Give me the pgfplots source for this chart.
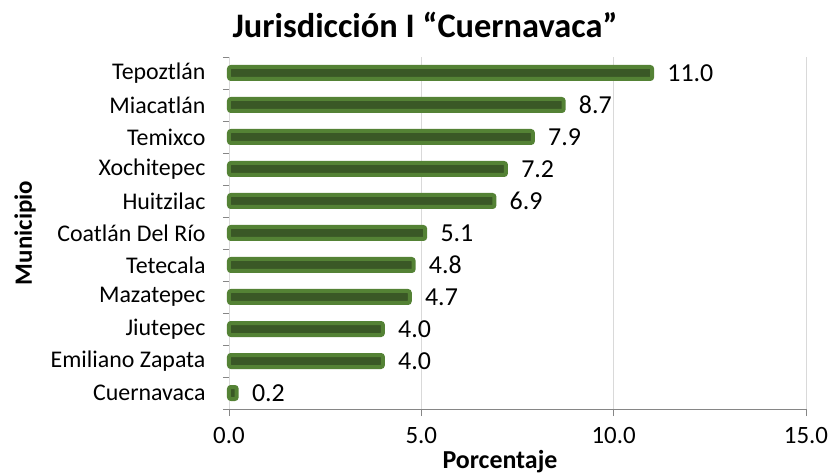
\documentclass[border=0pt]{standalone}
\usepackage{pgfplots}
\pgfplotsset{compat=1.18}
\usepackage{fontspec}
\setmainfont{Carlito}
\definecolor{barouter}{RGB}{84,130,53}
\definecolor{barinner}{RGB}{58,88,38}
\definecolor{axgray}{RGB}{134,134,134}
\definecolor{gridgray}{RGB}{217,217,217}
\begin{document}
\begin{tikzpicture}[x=1bp,y=1bp]
\useasboundingbox (-229bp,-65bp) rectangle (604bp,409bp);
\begin{axis}[
  at={(0,0)}, anchor=south west,
  scale only axis, width=577bp, height=352bp,
  xmin=0, xmax=15, ymin=-0.5, ymax=10.5,
  axis x line*=bottom, axis y line*=left,
  axis line style={axgray, line width=0.8bp},
  xtick={0,5,10,15},
  xticklabel style={font=\fontsize{25}{28}\selectfont, yshift=-15bp},
  /pgf/number format/.cd, fixed, precision=1, zerofill, assume math mode=true,
  /pgfplots/.cd,
  ytick={0,...,10},
  yticklabels={Cuernavaca,Emiliano Zapata,Jiutepec,Mazatepec,Tetecala,Coatlán Del Río,Huitzilac,Xochitepec,Temixco,Miacatlán,Tepoztlán},
  yticklabel style={font=\fontsize{24}{26}\selectfont, xshift=-20bp},
  minor ytick={-0.5,0.5,...,10.5},
  major tick length=0bp,
  minor tick length=6bp,
  tick style={axgray, line width=0.8bp},
  extra x ticks={0,5,10,15}, extra x tick labels={},
  extra x tick style={major tick length=7bp, tick align=outside},
  tick align=outside,
  xmajorgrids, major x grid style={gridgray, line width=0.8bp},
  xlabel={Porcentaje},
  ylabel={Municipio},
  every axis y label/.style={at={(-204bp,176bp)}, rotate=90, anchor=center, font=\bfseries\fontsize{25}{27}\selectfont},
  every axis x label/.style={at={(271bp,-53bp)}, anchor=center, font=\bfseries\fontsize{26}{28}\selectfont},
  xbar, bar width=12bp, bar shift=0pt,
  nodes near coords,
  nodes near coords style={font=\fontsize{26}{28}\selectfont, anchor=west, xshift=10bp, black, /pgf/number format/.cd, fixed, precision=1, zerofill, assume math mode=true},
  clip=false,
]
\addplot[draw=barouter, fill=barinner, line width=4bp, rounded corners=2bp] coordinates {
(0.2,0) (4.0,1) (4.0,2) (4.7,3) (4.8,4) (5.1,5) (6.9,6) (7.2,7) (7.9,8) (8.7,9) (11.0,10)
};
\end{axis}
\node[font=\bfseries\fontsize{34.5}{38}\selectfont] at (196bp,384bp) {Jurisdicción I “Cuernavaca”};
\end{tikzpicture}
\end{document}
